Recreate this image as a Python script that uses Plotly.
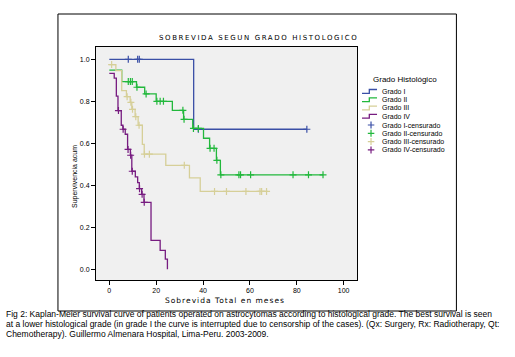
import numpy as np
import plotly.graph_objects as go

# ---------------- data ----------------
groups = ["Grado I", "Grado II", "Grado III", "Grado IV"]
censor_names = ["Grado I-censurado", "Grado II-censurado", "Grado III-censurado", "Grado IV-censurado"]

g1_t = [0, 36.0, 84.3]
g1_s = [1.0, 0.667, 0.667]
g1_c = [8.1, 12.1, 12.8, 38.0, 84.3]

g2_t = [0, 5.3, 11.6, 15.1, 20.0, 26.9, 31.7, 35.6, 40.2, 42.8, 45.7, 47.4, 91.2]
g2_s = [0.948, 0.894, 0.867, 0.835, 0.800, 0.757, 0.714, 0.671, 0.624, 0.576, 0.519, 0.450, 0.450]
g2_c = [8.1, 9.0, 9.8, 11.8, 15.7, 20.3, 21.7, 23.1, 31.4, 31.9, 35.9, 38.0,
        43.0, 44.7, 45.9, 47.6, 55.3, 56.0, 60.3, 78.4, 85.0, 91.2]

g3_t = [0, 2.8, 5.3, 7.3, 8.9, 9.6, 11.0, 12.3, 14.1, 14.9, 24.1, 34.2, 38.8, 67.6]
g3_s = [0.975, 0.946, 0.851, 0.822, 0.795, 0.762, 0.727, 0.686, 0.595, 0.548, 0.495, 0.435, 0.371, 0.371]
g3_c = [1.0, 7.6, 9.2, 9.9, 11.3, 12.7, 15.0, 17.1, 32.0, 44.9, 50.0, 58.3, 64.3, 65.0, 67.1]

g4_t = [0, 2.1, 3.0, 3.7, 5.1, 5.8, 6.8, 7.8, 9.0, 9.6, 11.1, 12.1, 12.8, 13.8, 14.8, 17.8, 21.7, 23.9, 24.8]
g4_s = [0.933, 0.910, 0.825, 0.756, 0.686, 0.667, 0.643, 0.571, 0.543, 0.467, 0.440, 0.413, 0.384, 0.357, 0.319, 0.138, 0.090, 0.048, 0.0]
g4_c = [3.9, 5.9, 8.0, 9.1, 9.8, 12.9, 14.0, 14.9]

x_ticks = [0, 20, 40, 60, 80, 100]
y_ticks = [0.0, 0.2, 0.4, 0.6, 0.8, 1.0]

colors = ["#3a4fa6", "#22b83c", "#d6cf98", "#771c80"]

series = [(g1_t, g1_s, g1_c), (g2_t, g2_s, g2_c), (g3_t, g3_s, g3_c), (g4_t, g4_s, g4_c)]

# ---------------- layout geometry ----------------
W, H = 515, 357
L, R, T, B = 96, 356.7, 47, 280


def px(x, y):
    return (x - L) / (R - L), (B - y) / (B - T)


fig = go.Figure()

for (t, s, c), col, name in zip(series, colors, groups):
    fig.add_trace(go.Scatter(x=t, y=s, mode="lines", line=dict(color=col, width=1.3, shape="hv"),
                             name=name, showlegend=False, hoverinfo="skip"))

for (t, s, c), col, name in zip(series, colors, censor_names):
    ta = np.array(t)
    sa = np.array(s)
    idx = np.searchsorted(ta, np.array(c), side="right") - 1
    cy = sa[idx]
    fig.add_trace(go.Scatter(x=c, y=cy, mode="markers",
                             marker=dict(symbol="cross-thin", size=5, line=dict(color=col, width=1.2)),
                             name=name, showlegend=False, hoverinfo="skip"))

shapes = []
annotations = []

# outer frame
x0, y0 = px(58, 14)
x1, y1 = px(456, 311)
shapes.append(dict(type="rect", xref="paper", yref="paper", x0=x0, y0=y1, x1=x1, y1=y0,
                   line=dict(color="black", width=1), fillcolor="rgba(0,0,0,0)", layer="below"))

# title
tx, ty = px(258, 38.3)
annotations.append(dict(text="<span style='letter-spacing:1.6px'>SOBREVIDA SEGUN GRADO HISTOLOGICO</span>",
                        x=tx, y=ty, xref="paper", yref="paper",
                        showarrow=False, xanchor="center", yanchor="middle",
                        font=dict(family="DejaVu Sans", size=7, color="black")))

# axis titles
ax, ay = px(225, 300.5)
annotations.append(dict(text="<span style='letter-spacing:1px'>Sobrevida Total en meses</span>",
                        x=ax, y=ay, xref="paper", yref="paper",
                        showarrow=False, xanchor="center", yanchor="middle",
                        font=dict(family="DejaVu Sans", size=7.5, color="black")))
yx, yy = px(75, 176)
annotations.append(dict(text="Supervivencia acum", x=yx, y=yy, xref="paper", yref="paper",
                        showarrow=False, xanchor="center", yanchor="middle", textangle=-90,
                        font=dict(family="Liberation Sans", size=7, color="black")))

# legend (manual)
lx, ly = px(370.5, 79.3)
annotations.append(dict(text="Grado Histológico", x=lx, y=ly, xref="paper", yref="paper",
                        showarrow=False, xanchor="left", yanchor="middle",
                        font=dict(family="Liberation Sans", size=8, color="black")))
line_rows = [91.3, 99.6, 107.9, 116.2]
for rowy, col, name in zip(line_rows, colors, groups):
    xa, ya = px(361.7, rowy + 2)
    xb, _ = px(369, rowy + 2)
    _, yc = px(369, rowy - 1.8)
    xd, _ = px(376.7, rowy - 1.8)
    path = f"M {xa},{ya} L {xb},{ya} L {xb},{yc} L {xd},{yc}"
    shapes.append(dict(type="path", xref="paper", yref="paper", path=path,
                       line=dict(color=col, width=1.3)))
    tx2, ty2 = px(379.3, rowy)
    annotations.append(dict(text=name, x=tx2, y=ty2, xref="paper", yref="paper", showarrow=False,
                            xanchor="left", yanchor="middle",
                            font=dict(family="Liberation Sans", size=7, color="black")))
cross_rows = [125.0, 133.3, 141.6, 149.9]
for rowy, col, name in zip(cross_rows, colors, censor_names):
    ha, hy = px(367.5, rowy)
    hb, _ = px(374, rowy)
    vx, va = px(370.7, rowy - 3.5)
    _, vb = px(370.7, rowy + 3.5)
    path = f"M {ha},{hy} L {hb},{hy} M {vx},{va} L {vx},{vb}"
    shapes.append(dict(type="path", xref="paper", yref="paper", path=path,
                       line=dict(color=col, width=1.2)))
    tx2, ty2 = px(379.3, rowy)
    annotations.append(dict(text=name, x=tx2, y=ty2, xref="paper", yref="paper", showarrow=False,
                            xanchor="left", yanchor="middle",
                            font=dict(family="Liberation Sans", size=7, color="black")))

# caption
caption = [
    "Fig 2: Kaplan-Meier survival curve of patients operated on astrocytomas according to histological grade. The best survival is seen",
    "at a lower histological grade (in grade I the curve is interrupted due to censorship of the cases). (Qx: Surgery, Rx: Radiotherapy, Qt:",
    "Chemotherapy). Guillermo Almenara Hospital, Lima-Peru. 2003-2009.",
]
for i, line in enumerate(caption):
    cx, cy_ = px(4.5, 314.3 + 10 * i)
    annotations.append(dict(text=line, x=cx, y=cy_, xref="paper", yref="paper", showarrow=False,
                            xanchor="left", yanchor="middle",
                            font=dict(family="Liberation Sans", size=8.5, color="black")))

fig.update_layout(
    width=W, height=H,
    margin=dict(l=L, r=W - R, t=T, b=H - B, pad=0),
    paper_bgcolor="white",
    plot_bgcolor="#f0f0f0",
    showlegend=False,
    hovermode=False,
    shapes=shapes,
    annotations=annotations,
    xaxis=dict(range=[-5.68, 105.7], tickvals=x_ticks, ticktext=[str(v) for v in x_ticks],
               ticks="outside", ticklen=4, tickcolor="black", showline=True, mirror=True,
               linecolor="black", linewidth=1, showgrid=False, zeroline=False,
               tickfont=dict(family="Liberation Sans", size=7, color="black")),
    yaxis=dict(range=[-0.051, 1.0586], tickvals=y_ticks, ticktext=[f"{v:.1f}" for v in y_ticks],
               ticks="outside", ticklen=4, tickcolor="black", showline=True, mirror=True,
               linecolor="black", linewidth=1, showgrid=False, zeroline=False,
               tickfont=dict(family="Liberation Sans", size=7, color="black")),
)

fig.write_html("out.html", config={"displayModeBar": False},
               post_script="document.body.style.margin='0';")
